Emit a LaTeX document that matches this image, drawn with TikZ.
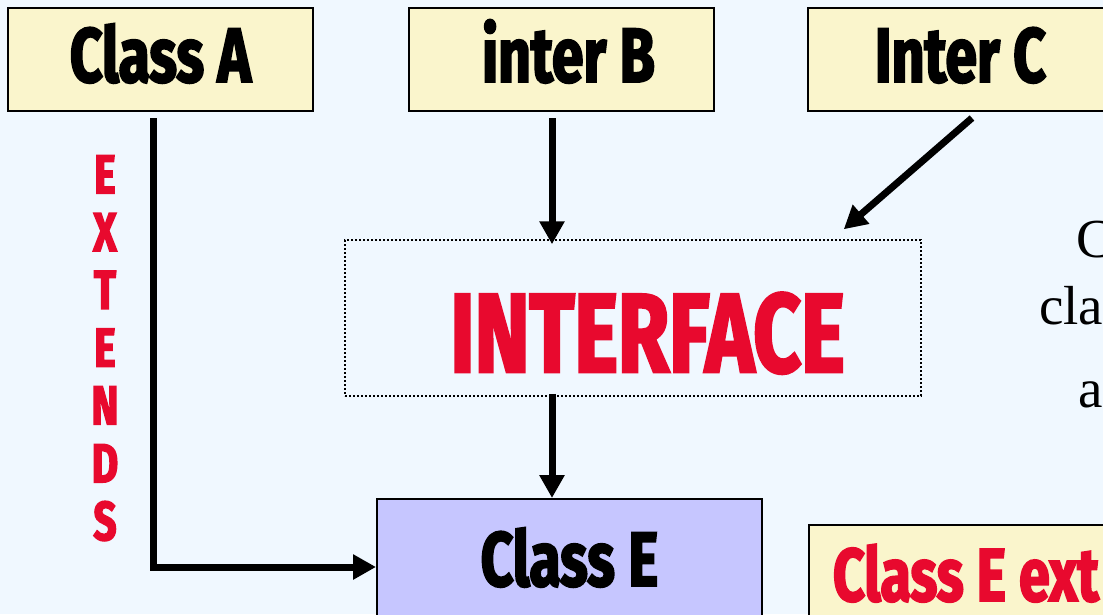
\documentclass[tikz,border=0pt]{standalone}
\usepackage{fontspec}
\usetikzlibrary{arrows.meta}
\newfontfamily\impact[FakeStretch=0.74,FakeBold=2.5]{Fira Sans}
\newfontfamily\serifface{Liberation Serif}
\definecolor{bg}{HTML}{F0F8FF}
\definecolor{note}{HTML}{FAF5CC}
\definecolor{lilac}{HTML}{C6C6FF}
\definecolor{alert}{HTML}{E8092E}
\tikzset{
  hbox/.style={draw=black, line width=2pt, fill=note, inner sep=0pt,
    minimum width=305pt, minimum height=103pt,
    font=\impact\bfseries\fontsize{77}{80}\selectfont,
    text height=53pt, text depth=8pt},
  link/.style={line width=7pt, -{Triangle[width=24pt,length=23pt]}},
  prose/.style={inner sep=0pt, anchor=base west,
    font=\serifface\fontsize{55}{60}\selectfont},
}
\begin{document}
\begin{tikzpicture}[x=1pt,y=-1pt]
  \useasboundingbox (0,0) rectangle (1103,614);
  \fill[bg] (0,0) rectangle (1103,614);
  \clip (0,0) rectangle (1103,614);

  % top row of type boxes
  \node[hbox] (ca) at (160.5,59.5) {Class A};
  \node[hbox] (ib) at (561,59.5) {\hspace*{15pt}inter B};
  \node[hbox] (ic) at (960.5,59.5) {Inter C};

  % the interface in the middle
  \node[draw=black, line width=1.5pt, dash pattern=on 2pt off 2pt,
        inner sep=0pt, minimum width=576pt, minimum height=156pt,
        text=alert, font=\impact\bfseries\fontsize{112}{115}\selectfont,
        text height=108pt, text depth=0pt]
        (iface) at (633,318) {\hspace*{29pt}INTERFACE};

  % the implementing class
  \node[hbox, fill=lilac, minimum width=385pt, minimum height=136pt,
        text height=52pt, text depth=14pt] (ce) at (569.5,567) {Class E};

  % note box at the lower right, running past the edge
  \node[draw=black, line width=2pt, fill=note, anchor=north west,
        inner xsep=24pt, inner ysep=24pt, text=alert,
        font=\impact\bfseries\fontsize{75}{78}\selectfont,
        text height=52pt, text depth=40pt]
        (note) at (808,524) {\makebox[300pt][l]{Class E ext}};

  % vertical label beside the inheritance line
  \node[anchor=north, inner sep=0pt, align=center, text=alert,
        font=\impact\bfseries\fontsize{55}{57.8}\selectfont]
        (ext) at (105,155) {E\\X\\T\\E\\N\\D\\S};

  % explanatory text running off the right edge
  \node[prose] (t1) at (1076,257) {C};
  \node[prose] (t2) at (1039,324) {cla};
  \node[prose] (t3) at (1078,407) {a};

  % connectors
  \draw[link] ([xshift=-7.5pt,yshift=-6pt]ca.south) |- (ce.west);
  \draw[link] ([xshift=-9pt,yshift=-6pt]ib.south)
              -- ([xshift=-9pt,yshift=-5pt]ib.south |- iface.north);
  \draw[link] ([xshift=11.5pt,yshift=-6pt]ic.south)
              -- ([xshift=-78pt,yshift=10pt]iface.north east);
  \draw[link] ([xshift=-81pt,yshift=3pt]iface.south)
              -- ([xshift=-81pt]iface.south |- ce.north);
\end{tikzpicture}
\end{document}
